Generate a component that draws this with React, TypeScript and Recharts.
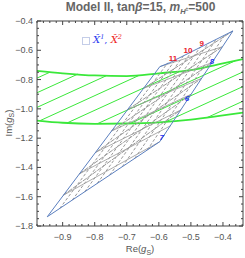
import React from 'react';
import { ComposedChart, Line, XAxis, YAxis } from 'recharts';

type P = [number, number];

// green band: upper and lower boundary curves
const upperBoundary: P[] = [
  [-0.98, -0.74], [-0.9, -0.757], [-0.8, -0.772], [-0.7, -0.776],
  [-0.6, -0.757], [-0.5, -0.735], [-0.4, -0.69], [-0.3375, -0.66],
];
const lowerBoundary: P[] = [
  [-0.98, -1.08], [-0.9, -1.095], [-0.8, -1.102], [-0.7, -1.1],
  [-0.6, -1.092], [-0.5, -1.074], [-0.4, -1.045], [-0.3375, -1.026],
];
// green hatching segments inside the band
const hatchLines: P[][] = [
  [[-0.98, -0.79], [-0.94, -0.75]],
  [[-0.98, -0.89], [-0.853, -0.763]],
  [[-0.98, -0.99], [-0.764, -0.774]],
  [[-0.97, -1.08], [-0.663, -0.773]],
  [[-0.886, -1.096], [-0.537, -0.747]],
  [[-0.792, -1.102], [-0.36, -0.67]],
  [[-0.69, -1.1], [-0.3375, -0.7475]],
  [[-0.585, -1.095], [-0.3375, -0.8475]],
  [[-0.45, -1.06], [-0.3375, -0.9475]],
];

// blue outline of the allowed region
const outline: P[] = [
  [-0.948, -1.737], [-0.597, -0.712], [-0.566, -0.685], [-0.369, -0.468],
  [-0.597, -1.224], [-0.948, -1.737],
];

// gray contour grid inside the region (dashed, steep)
const steepGrid: P[][] = [
  [[-0.909, -1.68], [-0.572, -0.685]],
  [[-0.87, -1.623], [-0.546, -0.658]],
  [[-0.831, -1.566], [-0.521, -0.631]],
  [[-0.792, -1.509], [-0.496, -0.604]],
  [[-0.753, -1.452], [-0.47, -0.576]],
  [[-0.714, -1.395], [-0.445, -0.549]],
  [[-0.675, -1.338], [-0.42, -0.522]],
  [[-0.636, -1.281], [-0.394, -0.495]],
];
// gray contour grid, crossing zigzag lines
const riseGrid: P[][] = [
  [[-0.898, -1.59], [-0.532, -1.008]],
  [[-0.848, -1.444], [-0.499, -0.9]],
  [[-0.797, -1.297], [-0.467, -0.792]],
  [[-0.748, -1.152], [-0.434, -0.684]],
  [[-0.697, -1.005], [-0.402, -0.576]],
  [[-0.647, -0.859], [-0.369, -0.468]],
];
const flatGrid: P[][] = [
  [[-0.898, -1.59], [-0.597, -1.224]],
  [[-0.848, -1.444], [-0.564, -1.116]],
  [[-0.797, -1.297], [-0.532, -1.008]],
  [[-0.748, -1.152], [-0.499, -0.9]],
  [[-0.697, -1.005], [-0.467, -0.792]],
  [[-0.647, -0.859], [-0.434, -0.684]],
  [[-0.597, -0.712], [-0.402, -0.576]],
];

const redLabels = [
  { x: -0.556, y: -0.651, t: '11' },
  { x: -0.509, y: -0.598, t: '10' },
  { x: -0.466, y: -0.55, t: '9' },
];
const blueLabels = [
  { x: -0.434, y: -0.673, t: '8' },
  { x: -0.5125, y: -0.926, t: '6' },
  { x: -0.591, y: -1.192, t: '7' },
];

const xMajor = [-0.9, -0.8, -0.7, -0.6, -0.5, -0.4];
const xMinor = [-0.98, -0.96, -0.94, -0.92, -0.88, -0.86, -0.84, -0.82, -0.78, -0.76, -0.74, -0.72,
  -0.68, -0.66, -0.64, -0.62, -0.58, -0.56, -0.54, -0.52, -0.48, -0.46, -0.44, -0.42, -0.38, -0.36, -0.34];
const yMajor = [-1.8, -1.6, -1.4, -1.2, -1.0, -0.8, -0.6, -0.4];
const yMinor = [-1.75, -1.7, -1.65, -1.55, -1.5, -1.45, -1.35, -1.3, -1.25, -1.15, -1.1, -1.05,
  -0.95, -0.9, -0.85, -0.75, -0.7, -0.65, -0.55, -0.5, -0.45];

const xDomain: [number, number] = [-0.98, -0.3375];
const yDomain: [number, number] = [-1.8, -0.4];

const toPts = (arr: P[]) => arr.map(([x, y]) => ({ x, y }));
const fmt = (v: number) => {
  const s = Math.abs(v) < 1e-9 ? '0' : v.toFixed(1);
  return s.replace('-', '\u2212');
};

const GREEN = '#3ae83a';
const BLUE = '#5b7fbf';
const GRAY = '#999999';
const TICK = '#555';
const FONT = '"Liberation Sans", Arial, sans-serif';

const makeTick = (side: 'bottom' | 'top' | 'left' | 'right', labels: boolean, majors: number[]) =>
  (props: any) => {
    const { x, y, payload } = props;
    const major = majors.some(m => Math.abs(m - payload.value) < 1e-6);
    const len = major ? 4 : 2;
    let line;
    if (side === 'bottom') line = <line x1={x} x2={x} y1={y} y2={y - len} stroke="#444" />;
    else if (side === 'top') line = <line x1={x} x2={x} y1={y} y2={y + len} stroke="#444" />;
    else if (side === 'left') line = <line x1={x} x2={x + len} y1={y} y2={y} stroke="#444" />;
    else line = <line x1={x} x2={x - len} y1={y} y2={y} stroke="#444" />;
    return (
      <g>
        {line}
        {labels && major && side === 'bottom' && (
          <text x={x} y={y + 14} textAnchor="middle" fontSize={9} fill={TICK} fontFamily={FONT}>
            {fmt(payload.value)}
          </text>
        )}
        {labels && major && side === 'left' && (
          <text x={x - 4} y={y + 3} textAnchor="end" fontSize={9} fill={TICK} fontFamily={FONT}>
            {fmt(payload.value)}
          </text>
        )}
      </g>
    );
  };

const textDot = (color: string, italic: boolean) => (props: any) => {
  const { cx, cy, payload, index } = props;
  return (
    <text key={`t-${index}`} x={cx} y={cy + 3} textAnchor="middle" fontSize={8} fontWeight="bold"
      fontStyle={italic ? 'italic' : 'normal'} fill={color} fontFamily={FONT}>
      {payload.t}
    </text>
  );
};

const App: React.FC = () => {
  const xTicks = [...xMajor, ...xMinor].sort((a, b) => a - b);
  const yTicks = [...yMajor, ...yMinor].sort((a, b) => a - b);
  const common = { dot: false, isAnimationActive: false, dataKey: 'y', activeDot: false } as const;

  return (
    <div style={{ position: 'absolute', left: 0, top: 0, width: 245, height: 258, fontFamily: FONT }}>
      <div style={{ position: 'absolute', left: 0, width: 245, top: 0, textAlign: 'center', paddingLeft: 36,
        boxSizing: 'border-box', fontSize: 12, fontWeight: 'bold', color: '#666', whiteSpace: 'nowrap' }}>
        Model II, tan<i>β</i>=15, <i>m</i><sub style={{ fontSize: 7.5 }}><i>H</i><sup style={{ fontSize: 5 }}>±</sup></sub>=500
      </div>
      <ComposedChart width={245} height={258} margin={{ top: 20, right: 1, bottom: 12, left: 12 }}>
        <XAxis xAxisId="b" type="number" dataKey="x" domain={xDomain} allowDataOverflow ticks={xTicks}
          interval={0} tickSize={0} tickMargin={0} height={20} stroke="#444"
          tick={makeTick('bottom', true, xMajor)} tickLine={false} />
        <XAxis xAxisId="t" orientation="top" type="number" dataKey="x" domain={xDomain} allowDataOverflow
          ticks={xTicks} interval={0} tickSize={0} tickMargin={0} height={1} stroke="#444"
          tick={makeTick('top', false, xMajor)} tickLine={false} />
        <YAxis yAxisId="l" type="number" domain={yDomain} allowDataOverflow ticks={yTicks} interval={0}
          tickSize={0} tickMargin={0} width={25} stroke="#444"
          tick={makeTick('left', true, yMajor)} tickLine={false} />
        <YAxis yAxisId="r" orientation="right" type="number" domain={yDomain} allowDataOverflow ticks={yTicks}
          interval={0} tickSize={0} tickMargin={0} width={1} stroke="#444"
          tick={makeTick('right', false, yMajor)} tickLine={false} />

        {hatchLines.map((s, i) => (
          <Line key={`h${i}`} xAxisId="b" yAxisId="l" data={toPts(s)} stroke={GREEN} strokeWidth={1} {...common} />
        ))}
        <Line xAxisId="b" yAxisId="l" data={toPts(upperBoundary)} type="monotone" stroke={GREEN} strokeWidth={1.8} {...common} />
        <Line xAxisId="b" yAxisId="l" data={toPts(lowerBoundary)} type="monotone" stroke={GREEN} strokeWidth={1.8} {...common} />

        {steepGrid.map((s, i) => (
          <Line key={`s${i}`} xAxisId="b" yAxisId="l" data={toPts(s)} stroke={GRAY} strokeWidth={1}
            strokeDasharray="3 2" {...common} />
        ))}
        {riseGrid.map((s, i) => (
          <Line key={`r${i}`} xAxisId="b" yAxisId="l" data={toPts(s)} stroke={GRAY} strokeWidth={1}
            strokeDasharray="5 1" {...common} />
        ))}
        {flatGrid.map((s, i) => (
          <Line key={`f${i}`} xAxisId="b" yAxisId="l" data={toPts(s)} stroke={GRAY} strokeWidth={1}
            strokeOpacity={0.8} {...common} />
        ))}
        <Line xAxisId="b" yAxisId="l" data={toPts(outline)} stroke={BLUE} strokeWidth={1} {...common} />

        <Line xAxisId="b" yAxisId="l" data={redLabels} dataKey="y" stroke="none" isAnimationActive={false}
          dot={textDot('#e8202a', false)} activeDot={false} />
        <Line xAxisId="b" yAxisId="l" data={blueLabels} dataKey="y" stroke="none" isAnimationActive={false}
          dot={textDot('#2233ee', true)} activeDot={false} />
      </ComposedChart>

      <div style={{ position: 'absolute', left: 82, top: 37, width: 6, height: 6, border: '1px solid #c4cde8' }} />
      <div style={{ position: 'absolute', left: 93, top: 33, fontSize: 10, whiteSpace: 'nowrap',
        fontFamily: '"DejaVu Serif", serif' }}>
        <span style={{ color: '#2a3af0', fontStyle: 'italic' }}>X&#770;<sup style={{ fontSize: 6.5 }}>1</sup></span>
        <span style={{ color: '#2a3af0' }}>, </span>
        <span style={{ color: '#ee2222', fontStyle: 'italic' }}>X&#770;<sup style={{ fontSize: 6.5 }}>2</sup></span>
      </div>

      <div style={{ position: 'absolute', left: 37, width: 206, top: 243, textAlign: 'center', fontSize: 9.5, color: '#555' }}>
        Re(<i>g</i><sub style={{ fontSize: 7 }}>S</sub>)
      </div>
      <div style={{ position: 'absolute', left: 9, top: 123, transform: 'translate(-50%, -50%) rotate(-90deg)',
        fontSize: 9.5, color: '#555', whiteSpace: 'nowrap' }}>
        Im(<i>g</i><sub style={{ fontSize: 7 }}>S</sub>)
      </div>
    </div>
  );
};

export default App;
